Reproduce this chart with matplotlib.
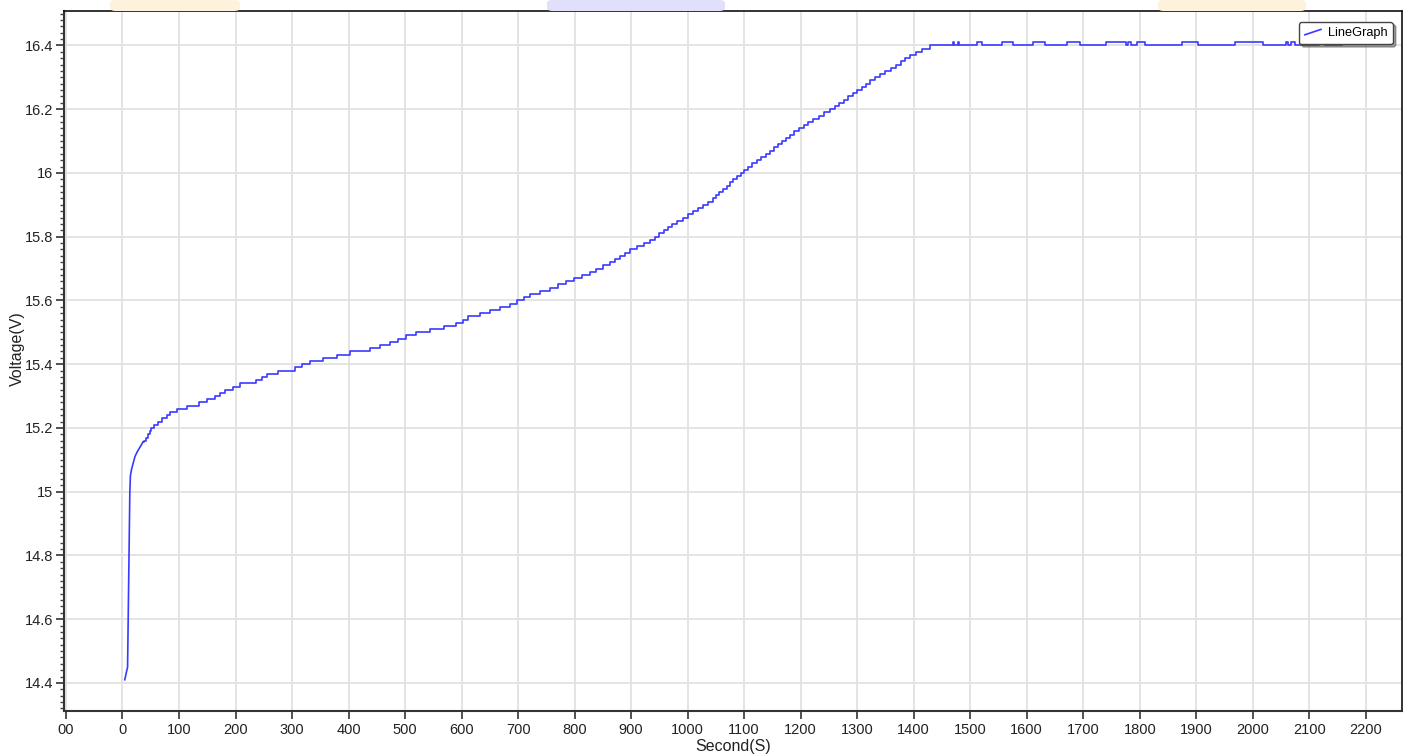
"""Charging curve: voltage vs time, drawn as the logger's step trace."""
import matplotlib
matplotlib.use("Agg")
import matplotlib.pyplot as plt
from matplotlib.legend_handler import HandlerBase
from matplotlib.lines import Line2D
from matplotlib.patches import FancyBboxPatch
from matplotlib.ticker import FixedLocator, FixedFormatter, MultipleLocator

plt.rcParams["font.family"] = ["Liberation Sans", "DejaVu Sans"]

# initial fast rise (smooth part of the trace)
ramp_t = [4, 9, 13, 14, 16, 19, 22, 26, 31, 36]
ramp_v = [14.41, 14.45, 15.00, 15.05, 15.07, 15.09, 15.11, 15.125, 15.14, 15.155]

# quantised part: time (s) at which each 0.01 V level is reached
step_t = [38, 42, 45, 48, 51, 55, 62, 70, 78, 84, 97, 115, 135, 150, 163, 172,
          181, 195, 208, 236, 246, 256, 275, 305, 318, 332, 355, 380, 402,
          438, 455, 473, 488, 502, 520, 544, 568, 590, 602, 612, 632, 650, 668,
          686, 698, 710, 721, 739, 757, 771, 785, 799, 813, 827, 838, 851, 863,
          872, 881, 890, 898, 910, 922, 934, 942, 950, 958, 966, 973, 982, 991,
          1000, 1009, 1018, 1027, 1036, 1044, 1050, 1056, 1062, 1069, 1075, 1081,
          1088, 1094, 1100, 1107, 1114, 1122, 1130, 1138, 1146, 1153, 1160, 1167,
          1174, 1181, 1189, 1197, 1205, 1213, 1222, 1232, 1242, 1252, 1260, 1268,
          1276, 1284, 1292, 1300, 1308, 1316, 1323, 1332, 1341, 1350, 1359, 1368,
          1377, 1385, 1394, 1404, 1415, 1429]
step_v = [15.16, 15.17, 15.18, 15.19, 15.20, 15.21, 15.22, 15.23, 15.24, 15.25,
          15.26, 15.27, 15.28, 15.29, 15.30, 15.31, 15.32, 15.33, 15.34, 15.35,
          15.36, 15.37, 15.38, 15.39, 15.40, 15.41, 15.42, 15.43, 15.44, 15.45,
          15.46, 15.47, 15.48, 15.49, 15.50, 15.51, 15.52, 15.53, 15.54, 15.55,
          15.56, 15.57, 15.58, 15.59, 15.60, 15.61, 15.62, 15.63, 15.64, 15.65,
          15.66, 15.67, 15.68, 15.69, 15.70, 15.71, 15.72, 15.73, 15.74, 15.75,
          15.76, 15.77, 15.78, 15.79, 15.80, 15.81, 15.82, 15.83, 15.84, 15.85,
          15.86, 15.87, 15.88, 15.89, 15.90, 15.91, 15.92, 15.93, 15.94, 15.95,
          15.96, 15.97, 15.98, 15.99, 16.00, 16.01, 16.02, 16.03, 16.04, 16.05,
          16.06, 16.07, 16.08, 16.09, 16.10, 16.11, 16.12, 16.13, 16.14, 16.15,
          16.16, 16.17, 16.18, 16.19, 16.20, 16.21, 16.22, 16.23, 16.24, 16.25,
          16.26, 16.27, 16.28, 16.29, 16.30, 16.31, 16.32, 16.33, 16.34, 16.35,
          16.36, 16.37, 16.38, 16.39, 16.40]

# constant-voltage plateau with the odd 16.41 V flicker
plat_t = [1469, 1471, 1479, 1481, 1512, 1521, 1556, 1576, 1611, 1632, 1671, 1694,
          1740, 1776, 1780, 1784, 1795, 1809, 1875, 1903, 1969, 2018, 2059, 2063,
          2067, 2075, 2117, 2128, 2158]
plat_v = [16.41, 16.40, 16.41, 16.40, 16.41, 16.40, 16.41, 16.40, 16.41, 16.40,
          16.41, 16.40, 16.41, 16.40, 16.41, 16.40, 16.41, 16.40, 16.41, 16.40,
          16.41, 16.40, 16.41, 16.40, 16.41, 16.40, 16.41, 16.40, 16.40]

x_ticks = list(range(-100, 2201, 100))
x_labels = ["00"] + [str(t) for t in range(0, 2201, 100)]
y_ticks = [14.4, 14.6, 14.8, 15.0, 15.2, 15.4, 15.6, 15.8, 16.0, 16.2, 16.4]
y_labels = ["14.4", "14.6", "14.8", "15", "15.2", "15.4", "15.6", "15.8",
            "16", "16.2", "16.4"]

LINE = "#3a3aff"


class DiagHandler(HandlerBase):
    """Legend handle drawn as a short rising diagonal."""
    def create_artists(self, legend, orig, xd, yd, w, h, fontsize, trans):
        ln = Line2D([-xd + 0.05 * w, -xd + 0.95 * w],
                    [-yd + 0.15 * h, -yd + 0.75 * h],
                    color=orig.get_color(), lw=orig.get_linewidth(),
                    transform=trans)
        return [ln]


W, H = 1407, 756
fig = plt.figure(figsize=(W / 100, H / 100), dpi=100)
ax = fig.add_axes([64 / W, 1 - 711 / H, (1402 - 64) / W, (711 - 11) / H])

# UI tabs peeking above the plot area
for x0, x1, col in [(110, 240, "#fff2dc"), (547, 725, "#e0e0fa"),
                    (1158, 1306, "#fff2dc")]:
    fig.patches.append(FancyBboxPatch((x0 / W, 1 - 11 / H), (x1 - x0) / W, 11 / H,
                                      boxstyle="round,pad=0,rounding_size=0.004",
                                      transform=fig.transFigure, fc=col, ec="none",
                                      zorder=0))

ax.plot(ramp_t, ramp_v, color=LINE, lw=1.2)
ax.plot([ramp_t[-1]] + step_t + plat_t, [ramp_v[-1]] + step_v + plat_v,
        color=LINE, lw=1.2, drawstyle="steps-post")
ax.plot([], [], color=LINE, lw=1.2, label="LineGraph")

ax.set_xlim(-103.5, 2264)
ax.set_ylim(14.312, 16.508)

ax.xaxis.set_major_locator(FixedLocator(x_ticks))
ax.xaxis.set_major_formatter(FixedFormatter(x_labels))
ax.yaxis.set_major_locator(FixedLocator(y_ticks))
ax.yaxis.set_major_formatter(FixedFormatter(y_labels))
ax.yaxis.set_minor_locator(MultipleLocator(0.02))

ax.grid(True, which="major", color="#e2e2e2", lw=1.3)
ax.set_axisbelow(True)

ax.tick_params(axis="both", which="major", length=6, width=1.2, colors="#333333",
               labelsize=10.5, labelcolor="#222222")
ax.tick_params(axis="x", which="major", pad=3)
ax.tick_params(axis="y", which="major", pad=2)
ax.tick_params(axis="y", which="minor", length=3, width=1.0, colors="#444444")
for side in ["left", "bottom"]:
    ax.spines[side].set_color("#333333")
    ax.spines[side].set_linewidth(1.5)
for side in ["top", "right"]:
    ax.spines[side].set_color("#111111")
    ax.spines[side].set_linewidth(1.2)

ax.set_xlabel("Second(S)", fontsize=11.5, color="#222222", labelpad=1)
ax.set_ylabel("Voltage(V)", fontsize=11.5, color="#222222")
ax.yaxis.set_label_coords(-0.0295, 0.517)

leg = ax.legend(loc="upper right", bbox_to_anchor=(1393 / W, 1 - 22 / H),
                bbox_transform=fig.transFigure, borderaxespad=0,
                handler_map={Line2D: DiagHandler()}, fontsize=9.2,
                handlelength=1.4, handletextpad=0.5, borderpad=0.4,
                fancybox=True, shadow=True, framealpha=1)
leg.get_frame().set_edgecolor("#444444")
leg.get_frame().set_linewidth(1.0)

fig.savefig("out.png", dpi=100)
